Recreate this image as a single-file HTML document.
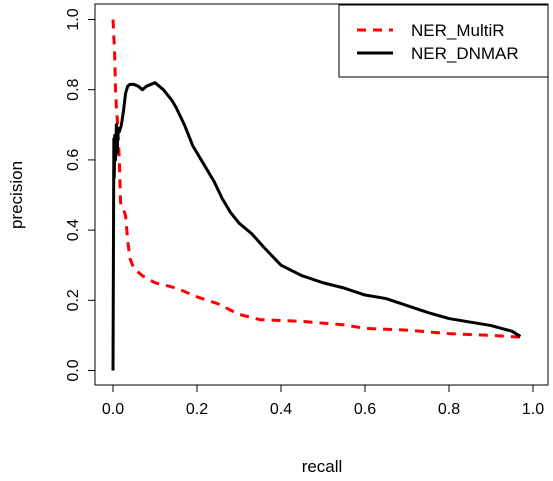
<!DOCTYPE html>
<html><head><meta charset="utf-8"><style>
body{margin:0;background:#fff}
svg{display:block;font-family:"Liberation Sans",Arial,sans-serif}
</style></head><body>
<svg id="chart" width="553" height="481" viewBox="0 0 553 481">
<rect x="95" y="4" width="453" height="381" fill="none" stroke="#000" stroke-width="1"/>
<g id="xaxis"></g>
<g id="yaxis"></g>
<text x="322" y="472" font-size="17" text-anchor="middle">recall</text>
<text transform="translate(22,195) rotate(-90)" font-size="17" text-anchor="middle">precision</text>
<g id="series"></g>
<g>
<rect x="339" y="5" width="209" height="72" fill="#fff" stroke="#000"/>
<line x1="357" y1="30" x2="393" y2="30" stroke="#f00" stroke-width="3" stroke-dasharray="9,7"/>
<text x="411" y="36" font-size="17">NER_MultiR</text>
<line x1="357" y1="53" x2="393" y2="53" stroke="#000" stroke-width="3"/>
<text x="411" y="59" font-size="17">NER_DNMAR</text>
</g>
</svg>
<script>
const xTicks=[0,0.2,0.4,0.6,0.8,1.0];
const yTicks=[0,0.2,0.4,0.6,0.8,1.0];
const dnmarRecall=[0,0.002,0.003,0.004,0.006,0.008,0.01,0.012,0.015,0.02,0.025,0.03,0.035,0.04,0.05,0.06,0.07,0.08,0.09,0.1,0.12,0.14,0.15,0.17,0.19,0.2,0.22,0.24,0.26,0.28,0.3,0.33,0.36,0.4,0.45,0.5,0.55,0.6,0.65,0.7,0.75,0.8,0.85,0.9,0.95,0.97];
const dnmarPrec=[0,0.66,0.55,0.67,0.6,0.7,0.62,0.69,0.68,0.7,0.74,0.79,0.81,0.815,0.815,0.81,0.80,0.81,0.815,0.82,0.80,0.77,0.75,0.70,0.64,0.62,0.58,0.54,0.49,0.45,0.42,0.39,0.35,0.30,0.27,0.25,0.235,0.215,0.205,0.185,0.165,0.148,0.138,0.128,0.112,0.097];
const multirRecall=[0,0.004,0.006,0.008,0.01,0.012,0.015,0.018,0.02,0.025,0.03,0.035,0.04,0.05,0.07,0.1,0.15,0.2,0.25,0.3,0.35,0.45,0.55,0.6,0.7,0.8,0.9,0.97];
const multirPrec=[1.0,0.9,0.8,0.75,0.72,0.68,0.6,0.48,0.47,0.46,0.44,0.37,0.32,0.29,0.27,0.25,0.235,0.21,0.19,0.16,0.145,0.14,0.13,0.12,0.115,0.105,0.10,0.095];
const X=v=>113+v*420, Y=v=>370.5-v*351;
const NS="http://www.w3.org/2000/svg";
const xa=document.getElementById('xaxis'), ya=document.getElementById('yaxis'), sg=document.getElementById('series');
function mk(t,a,p){const e=document.createElementNS(NS,t);for(const k in a)e.setAttribute(k,a[k]);p.appendChild(e);return e;}
xa.appendChild(mk('line',{x1:X(0),y1:385,x2:X(1),y2:385,stroke:'#000'},xa));
xTicks.forEach(t=>{
 const l=mk('line',{x1:X(t),y1:385,x2:X(t),y2:392,stroke:'#000'},xa);
 
 
 const tx=mk('text',{x:X(t),y:414,'font-size':16,'text-anchor':'middle'},xa);
 tx.textContent=t.toFixed(1);
 
 
});
mk('line',{x1:95,y1:Y(0),x2:95,y2:Y(1),stroke:'#000'},ya);
yTicks.forEach(t=>{
 const l=mk('line',{x1:88,y1:Y(t),x2:95,y2:Y(t),stroke:'#000'},ya);
 
 
 const tx=mk('text',{'font-size':16,'text-anchor':'middle',transform:`translate(78,${Y(t)}) rotate(-90)`},ya);
 tx.textContent=t.toFixed(1);
 
 
});
const pm=mk('polyline',{points:multirRecall.map((r,i)=>X(r)+','+Y(multirPrec[i])).join(' '),fill:'none',stroke:'#f00','stroke-width':3,'stroke-dasharray':'9,7'},sg);


const pd=mk('polyline',{points:dnmarRecall.map((r,i)=>X(r)+','+Y(dnmarPrec[i])).join(' '),fill:'none',stroke:'#000','stroke-width':3,'stroke-linejoin':'round'},sg);


</script>
</body></html>
